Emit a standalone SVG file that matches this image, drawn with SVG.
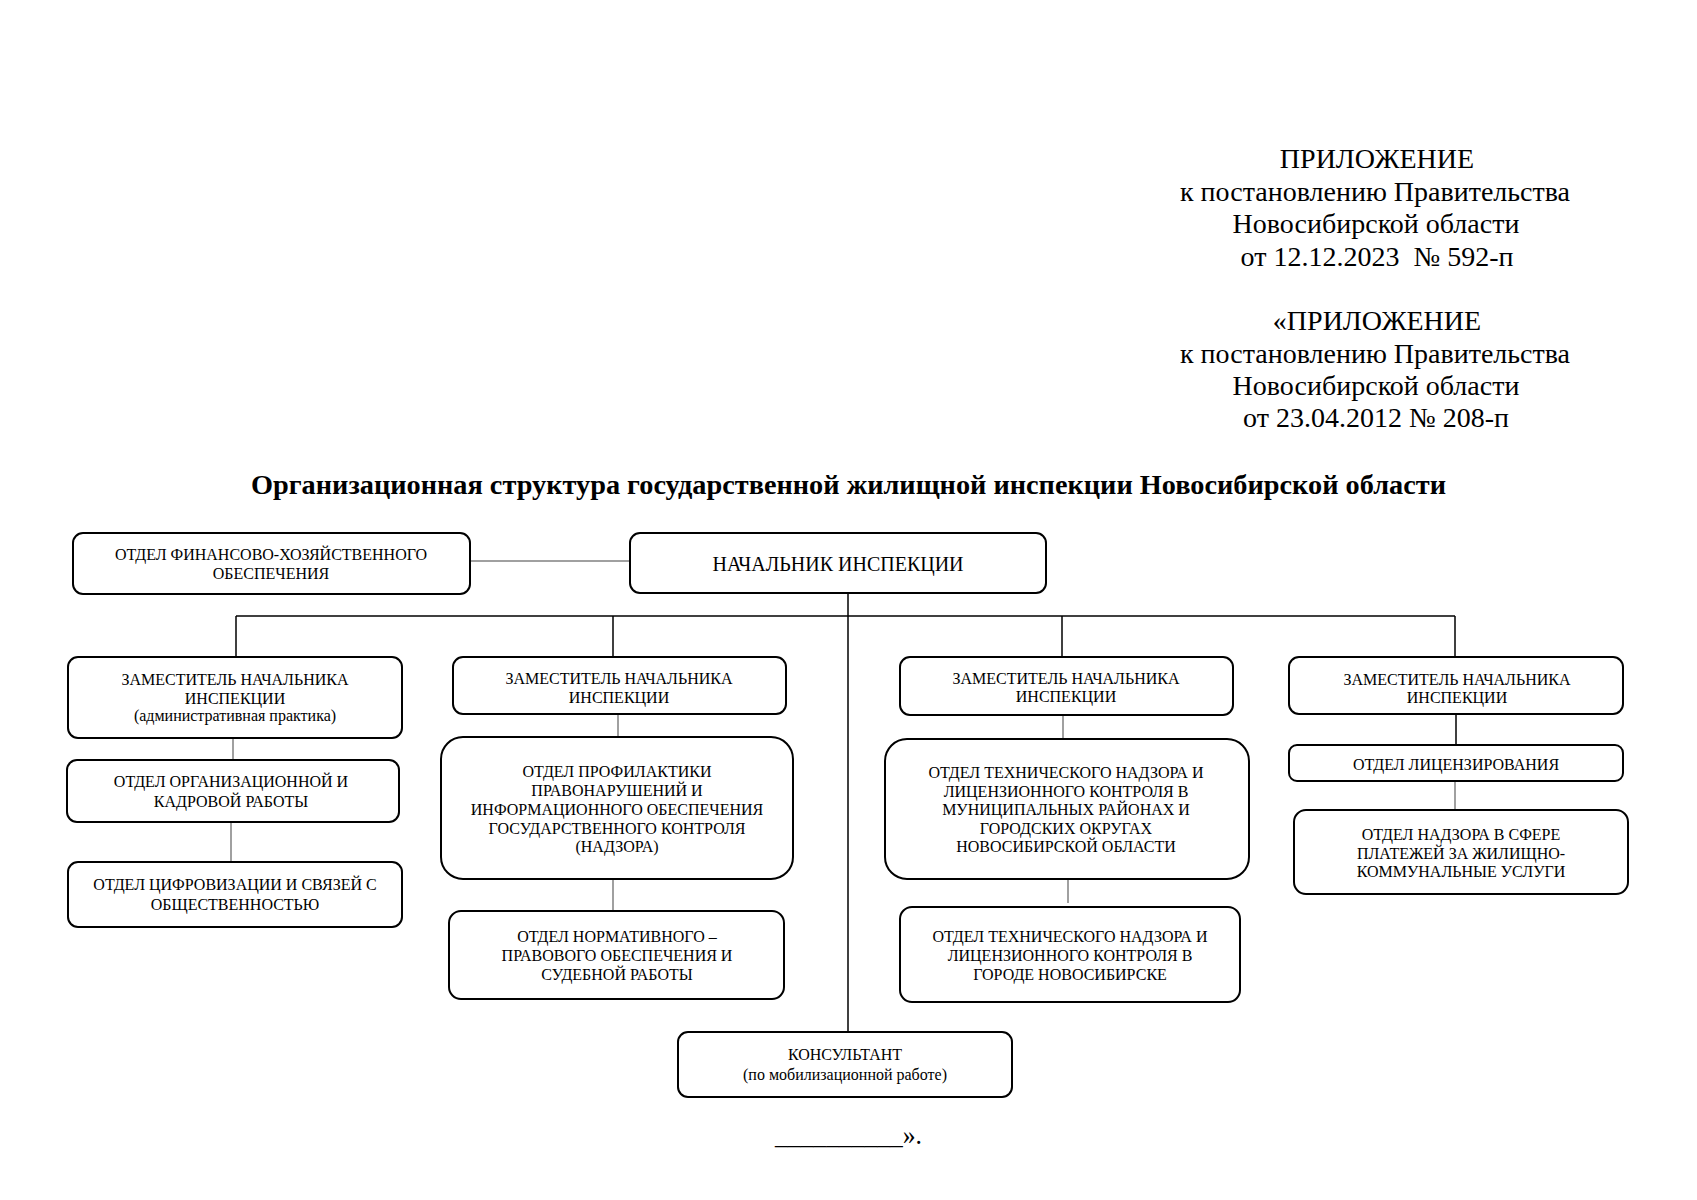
<svg xmlns="http://www.w3.org/2000/svg" width="1697" height="1200" viewBox="0 0 1697 1200">
<style>
text{font-family:"Liberation Serif","Times New Roman",serif;fill:#000}
.hd{font-size:28px;text-anchor:middle}
.ttl{font-size:27px;font-weight:bold}
.t{font-size:16px;text-anchor:middle}
.big{font-size:20px;text-anchor:middle}
.box{fill:#fff;stroke:#000;stroke-width:2}
.c{stroke:#000;stroke-width:1.5;fill:none}
.g{stroke:#808080;stroke-width:1.5;fill:none}
</style>
<rect width="1697" height="1200" fill="#fff"/>
<g id="header">
<text class="hd" x="1377" y="168">ПРИЛОЖЕНИЕ</text>
<text class="hd" x="1375" y="201">к постановлению Правительства</text>
<text class="hd" x="1376" y="233">Новосибирской области</text>
<text class="hd" x="1377" y="266" xml:space="preserve">от 12.12.2023  № 592-п</text>
<text class="hd" x="1377" y="330">«ПРИЛОЖЕНИЕ</text>
<text class="hd" x="1375" y="363">к постановлению Правительства</text>
<text class="hd" x="1376" y="395">Новосибирской области</text>
<text class="hd" x="1376" y="427">от 23.04.2012 № 208-п</text>
<text class="ttl" x="251" y="494" textLength="1195" lengthAdjust="spacingAndGlyphs">Организационная структура государственной жилищной инспекции Новосибирской области</text>
</g>
<g id="connectors">
<line class="g" x1="470" y1="561" x2="630" y2="561"/>
<line class="c" x1="848" y1="593" x2="848" y2="1032"/>
<line class="c" x1="236" y1="616" x2="1455" y2="616"/>
<line class="c" x1="236" y1="616" x2="236" y2="657"/>
<line class="c" x1="613" y1="616" x2="613" y2="657"/>
<line class="c" x1="1062" y1="616" x2="1062" y2="657"/>
<line class="c" x1="1455" y1="616" x2="1455" y2="657"/>
<line class="g" x1="233" y1="738" x2="233" y2="760"/>
<line class="g" x1="231" y1="822" x2="231" y2="862"/>
<line class="g" x1="618" y1="713" x2="618" y2="737"/>
<line class="g" x1="613" y1="879" x2="613" y2="910"/>
<line class="g" x1="1063" y1="715" x2="1063" y2="738"/>
<line class="g" x1="1068" y1="879" x2="1068" y2="903"/>
<line class="c" x1="1456" y1="714" x2="1456" y2="745"/>
<line class="g" x1="1455" y1="781" x2="1455" y2="810"/>
</g>
<g id="fin">
<rect class="box" x="73" y="533" width="397" height="61" rx="10"/>
<text class="t" x="271" y="560">ОТДЕЛ ФИНАНСОВО-ХОЗЯЙСТВЕННОГО</text>
<text class="t" x="271" y="579">ОБЕСПЕЧЕНИЯ</text>
</g>
<g id="head">
<rect class="box" x="630" y="533" width="416" height="60" rx="10"/>
<text class="big" x="838" y="571">НАЧАЛЬНИК ИНСПЕКЦИИ</text>
</g>
<g id="dep1">
<rect class="box" x="68" y="657" width="334" height="81" rx="10"/>
<text class="t" x="235" y="685">ЗАМЕСТИТЕЛЬ НАЧАЛЬНИКА</text>
<text class="t" x="235" y="704">ИНСПЕКЦИИ</text>
<text class="t" x="235" y="721">(административная практика)</text>
</g>
<g id="org">
<rect class="box" x="67" y="760" width="332" height="62" rx="10"/>
<text class="t" x="231" y="787">ОТДЕЛ ОРГАНИЗАЦИОННОЙ И</text>
<text class="t" x="231" y="807">КАДРОВОЙ РАБОТЫ</text>
</g>
<g id="dig">
<rect class="box" x="68" y="862" width="334" height="65" rx="10"/>
<text class="t" x="235" y="890">ОТДЕЛ ЦИФРОВИЗАЦИИ И СВЯЗЕЙ С</text>
<text class="t" x="235" y="910">ОБЩЕСТВЕННОСТЬЮ</text>
</g>
<g id="dep2">
<rect class="box" x="453" y="657" width="333" height="57" rx="10"/>
<text class="t" x="619" y="684">ЗАМЕСТИТЕЛЬ НАЧАЛЬНИКА</text>
<text class="t" x="619" y="703">ИНСПЕКЦИИ</text>
</g>
<g id="prof">
<rect class="box" x="441" y="737" width="352" height="142" rx="22"/>
<text class="t" x="617" y="777">ОТДЕЛ ПРОФИЛАКТИКИ</text>
<text class="t" x="617" y="796">ПРАВОНАРУШЕНИЙ И</text>
<text class="t" x="617" y="815">ИНФОРМАЦИОННОГО ОБЕСПЕЧЕНИЯ</text>
<text class="t" x="617" y="834">ГОСУДАРСТВЕННОГО КОНТРОЛЯ</text>
<text class="t" x="617" y="852">(НАДЗОРА)</text>
</g>
<g id="norm">
<rect class="box" x="449" y="911" width="335" height="88" rx="12"/>
<text class="t" x="617" y="942">ОТДЕЛ НОРМАТИВНОГО –</text>
<text class="t" x="617" y="961">ПРАВОВОГО ОБЕСПЕЧЕНИЯ И</text>
<text class="t" x="617" y="980">СУДЕБНОЙ РАБОТЫ</text>
</g>
<g id="dep3">
<rect class="box" x="900" y="657" width="333" height="58" rx="10"/>
<text class="t" x="1066" y="684">ЗАМЕСТИТЕЛЬ НАЧАЛЬНИКА</text>
<text class="t" x="1066" y="702">ИНСПЕКЦИИ</text>
</g>
<g id="tech1">
<rect class="box" x="885" y="739" width="364" height="140" rx="22"/>
<text class="t" x="1066" y="778">ОТДЕЛ ТЕХНИЧЕСКОГО НАДЗОРА И</text>
<text class="t" x="1066" y="797">ЛИЦЕНЗИОННОГО КОНТРОЛЯ В</text>
<text class="t" x="1066" y="815">МУНИЦИПАЛЬНЫХ РАЙОНАХ И</text>
<text class="t" x="1066" y="834">ГОРОДСКИХ ОКРУГАХ</text>
<text class="t" x="1066" y="852">НОВОСИБИРСКОЙ ОБЛАСТИ</text>
</g>
<g id="tech2">
<rect class="box" x="900" y="907" width="340" height="95" rx="12"/>
<text class="t" x="1070" y="942">ОТДЕЛ ТЕХНИЧЕСКОГО НАДЗОРА И</text>
<text class="t" x="1070" y="961">ЛИЦЕНЗИОННОГО КОНТРОЛЯ В</text>
<text class="t" x="1070" y="980">ГОРОДЕ НОВОСИБИРСКЕ</text>
</g>
<g id="dep4">
<rect class="box" x="1289" y="657" width="334" height="57" rx="10"/>
<text class="t" x="1457" y="685">ЗАМЕСТИТЕЛЬ НАЧАЛЬНИКА</text>
<text class="t" x="1457" y="703">ИНСПЕКЦИИ</text>
</g>
<g id="lic">
<rect class="box" x="1289" y="745" width="334" height="36" rx="8"/>
<text class="t" x="1456" y="770">ОТДЕЛ ЛИЦЕНЗИРОВАНИЯ</text>
</g>
<g id="pay">
<rect class="box" x="1294" y="810" width="334" height="84" rx="12"/>
<text class="t" x="1461" y="840">ОТДЕЛ НАДЗОРА В СФЕРЕ</text>
<text class="t" x="1461" y="859">ПЛАТЕЖЕЙ ЗА ЖИЛИЩНО-</text>
<text class="t" x="1461" y="877">КОММУНАЛЬНЫЕ УСЛУГИ</text>
</g>
<g id="cons">
<rect class="box" x="678" y="1032" width="334" height="65" rx="10"/>
<text class="t" x="845" y="1060">КОНСУЛЬТАНТ</text>
<text class="t" x="845" y="1080">(по мобилизационной работе)</text>
</g>
<g id="footer">
<text x="775" y="1144" font-size="27" textLength="147" lengthAdjust="spacingAndGlyphs">__________».</text>
</g>
</svg>
